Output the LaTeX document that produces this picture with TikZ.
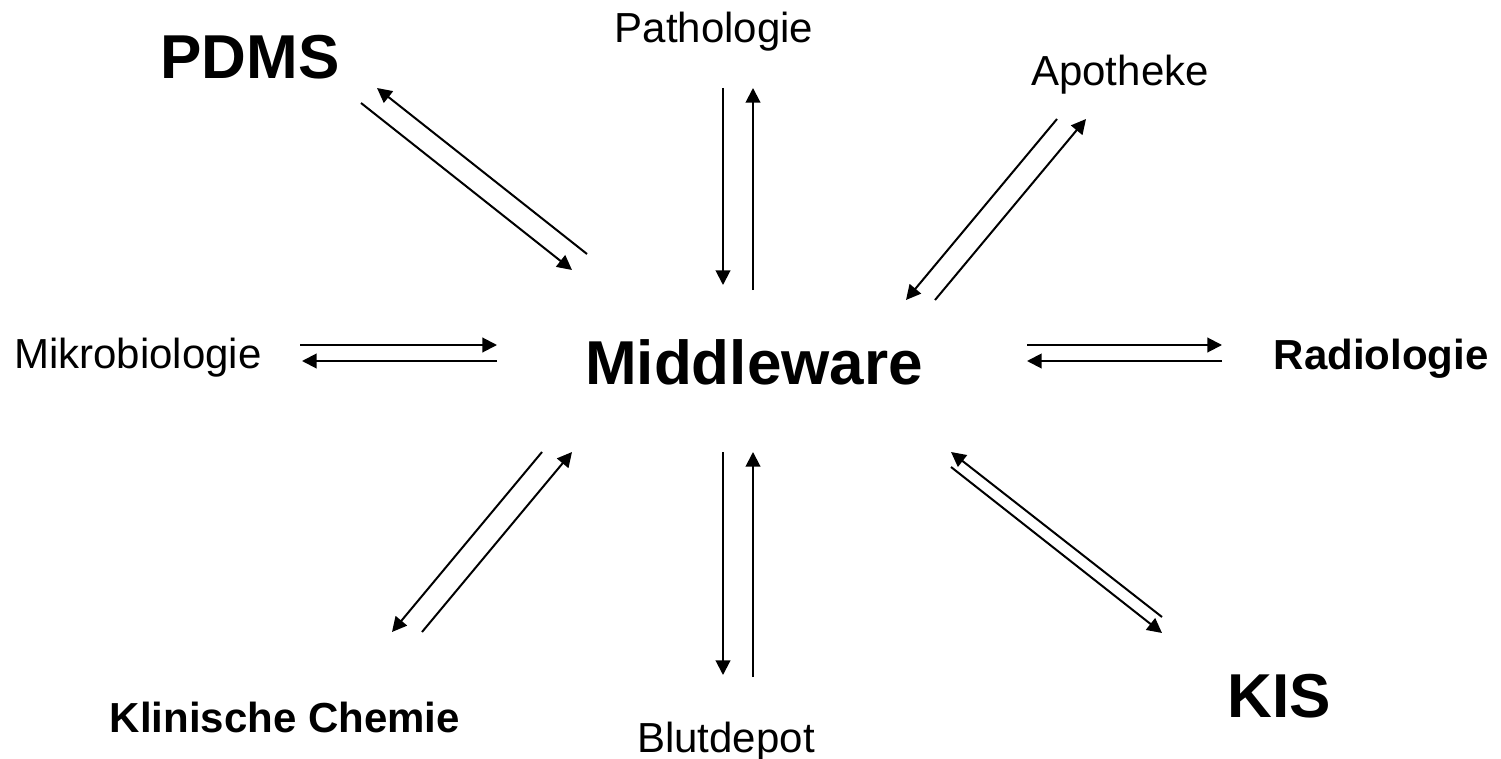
\documentclass[tikz,border=0pt]{standalone}
\usepackage{fontspec}
\setmainfont{Liberation Sans}
\usetikzlibrary{arrows.meta}

\begin{document}
\begin{tikzpicture}[
  x=0.75pt, y=-0.75pt,
  lbl/.style={anchor=base, font=\fontsize{31.5}{36}\selectfont},
  lblbold/.style={anchor=base, font=\fontsize{31.5}{36}\selectfont\bfseries},
  big/.style={anchor=base, font=\fontsize{46.5}{52}\selectfont\bfseries},
  flow/.style={-{Triangle[length=11pt,width=11pt]}, line width=1.5pt}
]
\useasboundingbox (0,0) rectangle (1501,759);

\node[big] (mw) at (754,384) {Middleware};
\node[big] (pdms) at (250,79) {PDMS};
\node[big] (kis) at (1279,717) {KIS};
\node[lbl] (patho) at (714,43) {Pathologie};
\node[lbl] (apo) at (1120,86) {Apotheke};
\node[lbl] (mikro) at (138,368) {Mikrobiologie};
\node[lblbold] (radio) at (1381,369) {Radiologie};
\node[lblbold] (klin) at (285,732) {Klinische Chemie};
\node[lbl] (blut) at (726,752) {Blutdepot};

% arrow ends
\coordinate (pa1) at (723,88);   \coordinate (pa2) at (723,285);
\coordinate (pa3) at (753,290);  \coordinate (pa4) at (753,88);
\coordinate (ap1) at (1057,119); \coordinate (ap2) at (906,300);
\coordinate (ap3) at (935,300);  \coordinate (ap4) at (1086,119);
\coordinate (ra1) at (1027,345); \coordinate (ra2) at (1222,345);
\coordinate (ra3) at (1222,361); \coordinate (ra4) at (1027,361);
\coordinate (ki1) at (1162,617); \coordinate (ki2) at (951,452);
\coordinate (ki3) at (951,467);  \coordinate (ki4) at (1162,633);
\coordinate (bl1) at (723,452);  \coordinate (bl2) at (723,675);
\coordinate (bl3) at (753,677);  \coordinate (bl4) at (753,452);
\coordinate (kl1) at (542,452);  \coordinate (kl2) at (392,632);
\coordinate (kl3) at (422,632);  \coordinate (kl4) at (572,452);
\coordinate (mi1) at (497,361);  \coordinate (mi2) at (302,361);
\coordinate (mi3) at (300,345);  \coordinate (mi4) at (497,345);
\coordinate (pd1) at (587,254);  \coordinate (pd2) at (377,88);
\coordinate (pd3) at (361,103);  \coordinate (pd4) at (572,270);

\draw[flow] (pa1) -- (pa2);
\draw[flow] (pa3) -- (pa4);
\draw[flow] (ap1) -- (ap2);
\draw[flow] (ap3) -- (ap4);
\draw[flow] (ra1) -- (ra2);
\draw[flow] (ra3) -- (ra4);
\draw[flow] (ki1) -- (ki2);
\draw[flow] (ki3) -- (ki4);
\draw[flow] (bl1) -- (bl2);
\draw[flow] (bl3) -- (bl4);
\draw[flow] (kl1) -- (kl2);
\draw[flow] (kl3) -- (kl4);
\draw[flow] (mi1) -- (mi2);
\draw[flow] (mi3) -- (mi4);
\draw[flow] (pd1) -- (pd2);
\draw[flow] (pd3) -- (pd4);
\end{tikzpicture}
\end{document}
